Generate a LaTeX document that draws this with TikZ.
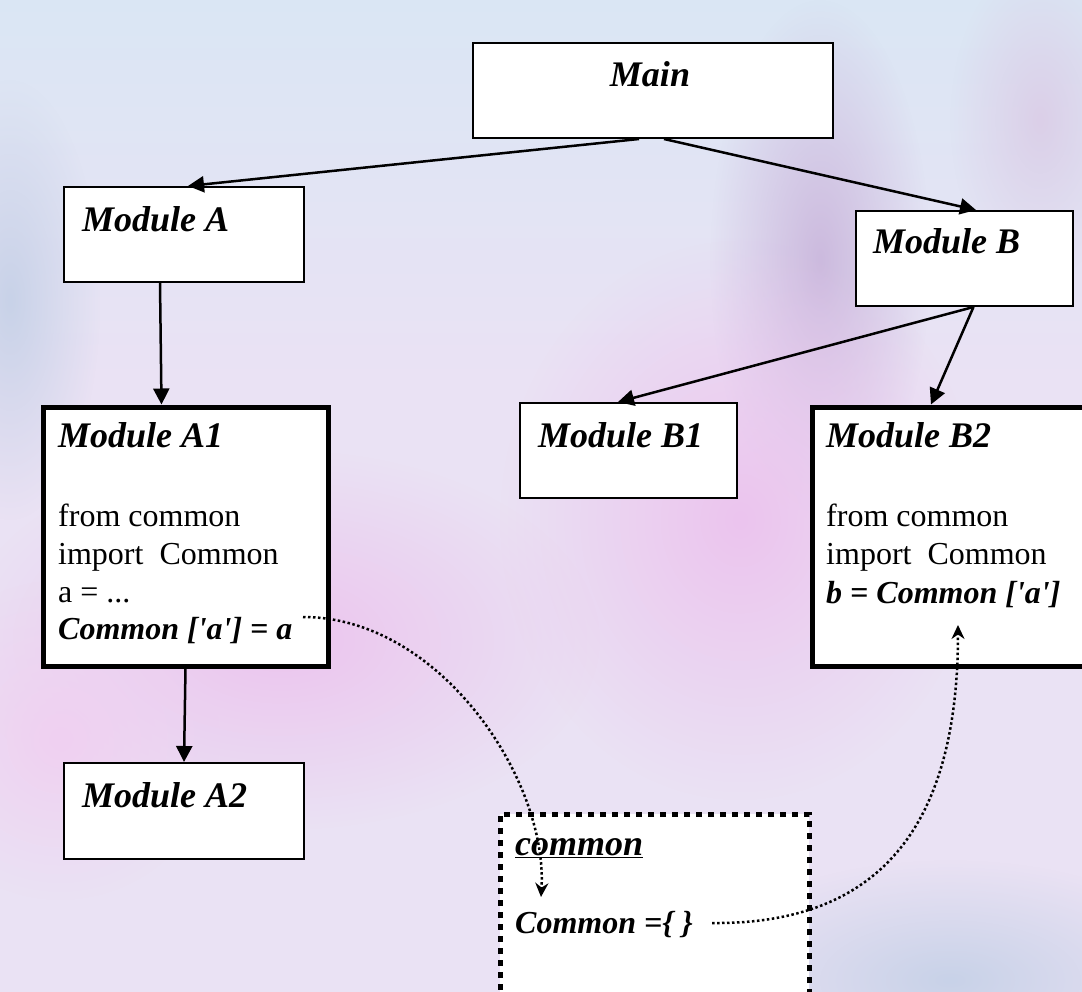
\documentclass[tikz,border=0pt]{standalone}
\usepackage{fontspec}
\setmainfont{Liberation Serif}[Ligatures=TeXOff]
\usepackage{tikz}
\usetikzlibrary{arrows.meta, fadings}
\definecolor{bgbase}{RGB}{234,226,244}
\definecolor{bgtop}{RGB}{218,230,244}
\definecolor{bgpink}{RGB}{236,196,238}
\definecolor{bgpurple}{RGB}{204,186,222}
\definecolor{bgblue}{RGB}{200,210,232}
\tikzfading[name=softblob, inner color=transparent!0, outer color=transparent!100]
\tikzstyle{box}       = [rectangle, draw=black, fill=white, line width=2pt, anchor=north west, inner sep=0pt]
\tikzstyle{thickbox}  = [box, line width=5pt]
\tikzstyle{membox}    = [box, line width=5pt, dash pattern=on 6pt off 6pt]
\tikzstyle{modtitle}  = [anchor=base west, inner sep=0pt, font=\fontsize{36}{43}\selectfont\bfseries\itshape]
\tikzstyle{codeline}  = [anchor=base west, inner sep=0pt, font=\fontsize{32}{38}\selectfont]
\tikzstyle{boldline}  = [codeline, font=\fontsize{32}{38}\selectfont\bfseries\itshape]
\tikzstyle{arrow}     = [line width=2.5pt, -{Triangle[length=16pt,width=16pt]}]
\tikzstyle{dotarrow}  = [line width=2.5pt, dash pattern=on 2.5pt off 2.5pt, -{Stealth[length=14pt,width=13pt]}]
\tikzstyle{blob}      = [path fading=softblob]

\begin{document}
\begin{tikzpicture}[x=1pt, y=-1pt]
    \useasboundingbox (0,0) rectangle (1082,992);
    \clip (0,0) rectangle (1082,992);

    % background
    \fill[bgbase] (0,0) rectangle (1082,992);
    \shade[top color=bgtop, bottom color=bgbase] (0,0) rectangle (1082,380);
    \fill[bgblue, blob] (10,300) ellipse [x radius=90pt, y radius=220pt];
    \fill[bgpurple, blob] (820,260) ellipse [x radius=110pt, y radius=260pt];
    \fill[bgpurple!70, blob] (1040,120) ellipse [x radius=90pt, y radius=160pt];
    \fill[bgpink, blob] (740,520) ellipse [x radius=240pt, y radius=280pt];
    \fill[bgpink, blob] (280,640) ellipse [x radius=320pt, y radius=190pt];
    \fill[bgpink!80, blob] (60,740) ellipse [x radius=160pt, y radius=160pt];
    \fill[bgblue, blob] (950,980) ellipse [x radius=260pt, y radius=120pt];

    % boxes
    \node (main)   [box,      minimum width=360pt, minimum height=95pt]  at (472,42) {};
    \node (moda)   [box,      minimum width=240pt, minimum height=95pt]  at (63,186) {};
    \node (modb)   [box,      minimum width=217pt, minimum height=95pt]  at (855,210) {};
    \node (moda1)  [thickbox, minimum width=285pt, minimum height=259pt] at (40.5,404.5) {};
    \node (modb1)  [box,      minimum width=217pt, minimum height=95pt]  at (519,402) {};
    \node (modb2)  [thickbox, minimum width=300pt, minimum height=259pt] at (809.5,404.5) {};
    \node (moda2)  [box,      minimum width=240pt, minimum height=96pt]  at (63,762) {};
    \node (common) [membox,   minimum width=309pt, minimum height=220pt] at (497.5,811.5) {};

    % texts
    \node (maint)   [modtitle, anchor=base] at (650,87) {Main};
    \node (modat)   [modtitle] at (82,232) {Module A};
    \node (modbt)   [modtitle] at (873,254) {Module B};
    \node (moda1t)  [modtitle] at (58,447) {Module A1};
    \node (modb1t)  [modtitle] at (538,447) {Module B1};
    \node (modb2t)  [modtitle] at (826,447) {Module B2};
    \node (moda2t)  [modtitle] at (82,807) {Module A2};
    \node (commont) [modtitle] at (515,855) {\underline{common}};

    \node (a1from)  [codeline] at (58,526) {from common};
    \node (a1imp)   [codeline] at (58,564) {import\ \ Common};
    \node (a1val)   [codeline] at (58,602) {a = ...};
    \node (a1set)   [boldline] at (58,639) {Common ['a'] = a};
    \node (b2from)  [codeline] at (826,526) {from common};
    \node (b2imp)   [codeline] at (826,564) {import\ \ Common};
    \node (b2get)   [boldline] at (826,603) {b = Common ['a']};
    \node (comdict) [boldline] at (515,933) {Common =\{ \}};

    % arrows
    \draw [arrow] ([xshift=-14pt]main.south) -- ([xshift=4pt]moda.north);
    \draw [arrow] ([xshift=11pt]main.south)  -- ([xshift=11.5pt]modb.north);
    \draw [arrow] ([xshift=-24pt]moda.south) -- ([xshift=-24pt]moda1.north);
    \draw [arrow] ([xshift=9pt]modb.south)   -- ([xshift=-10.5pt]modb1.north);
    \draw [arrow] ([xshift=9pt]modb.south)   -- ([xshift=-31pt]modb2.north);
    \draw [arrow] (moda1.south) -- (moda2.north);

    % dotted links through common
    \coordinate (a1out)  at (303,617);
    \coordinate (comin)  at (541,897);
    \coordinate (comout) at (712,923);
    \coordinate (b2in)   at (958,625);
    \draw [dotarrow] (a1out) .. controls (440,617) and (548,780) .. (comin);
    \draw [dotarrow] (comout) .. controls (900,925) and (958,800) .. (b2in);
\end{tikzpicture}
\end{document}
